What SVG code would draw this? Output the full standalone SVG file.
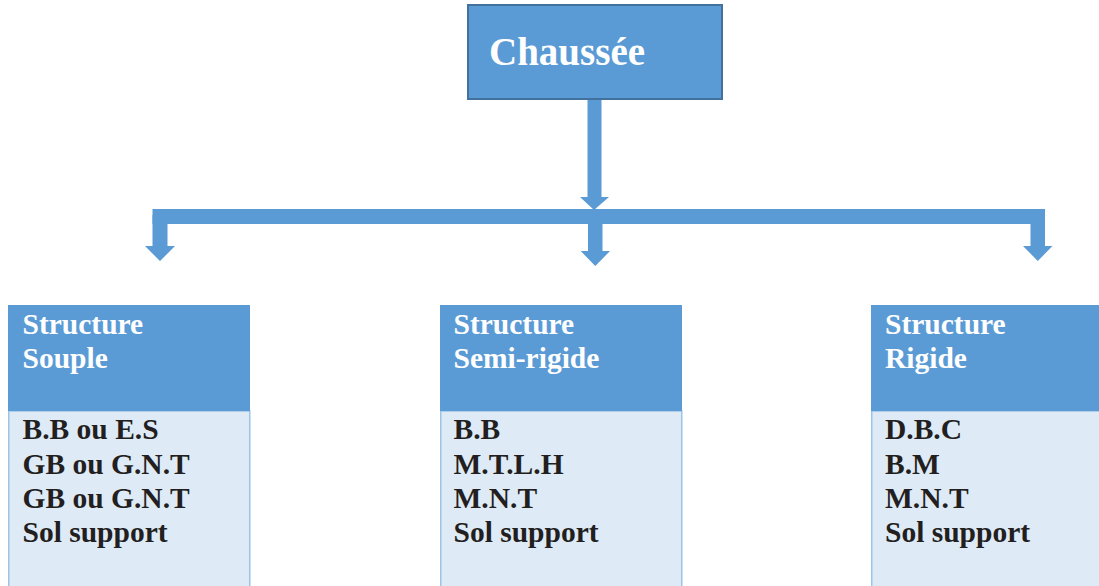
<svg xmlns="http://www.w3.org/2000/svg" width="1099" height="586" viewBox="0 0 1099 586">
<style>
.hdr{fill:#5b9bd5}
.body{fill:#deebf7;stroke:#9dc3e6;stroke-width:1.5}
.arr{fill:#5b9bd5}
.ht{font-family:"Liberation Serif",serif;font-weight:bold;font-size:29.5px;fill:#ffffff}
.bt{font-family:"Liberation Serif",serif;font-weight:bold;font-size:29.5px;fill:#231f20}
.title{font-family:"Liberation Serif",serif;font-weight:bold;font-size:39px;fill:#ffffff}
</style>
<rect width="1099" height="586" fill="#ffffff"/>
<g id="connectors">
<polygon class="arr" points="587.5,100 601.5,100 601.5,197 609,197 594,210 580,197 587.5,197"/>
<rect class="arr" x="152.5" y="209" width="892.5" height="15"/>
<polygon class="arr" points="152.5,215 167.5,215 167.5,246 175,246 160,261 145,246 152.5,246"/>
<polygon class="arr" points="588,220 602.5,220 602.5,251 610,251 595.3,266 580.7,251 588,251"/>
<polygon class="arr" points="1030.5,215 1045,215 1045,246 1052.5,246 1037.8,261 1023,246 1030.5,246"/>
</g>
<g id="chaussee">
<rect x="468" y="5" width="254" height="94" fill="#5b9bd5" stroke="#41719c" stroke-width="2"/>
<text class="title" x="489" y="65">Chaussée</text>
</g>
<g id="souple">
<rect class="body" x="8.75" y="411" width="241" height="180"/>
<rect class="hdr" x="8" y="305" width="242" height="106"/>
<text class="ht" x="22.5" y="333.5">Structure</text>
<text class="ht" x="22.5" y="367.5">Souple</text>
<text class="bt" x="22.5" y="439">B.B ou E.S</text>
<text class="bt" x="22.5" y="473.5">GB ou G.N.T</text>
<text class="bt" x="22.5" y="507.5">GB ou G.N.T</text>
<text class="bt" x="22.5" y="542">Sol support</text>
</g>
<g id="semi-rigide">
<rect class="body" x="440.75" y="411" width="241" height="180"/>
<rect class="hdr" x="440" y="305" width="242" height="106"/>
<text class="ht" x="453.5" y="333.5">Structure</text>
<text class="ht" x="453.5" y="367.5">Semi-rigide</text>
<text class="bt" x="453.5" y="439">B.B</text>
<text class="bt" x="453.5" y="473.5">M.T.L.H</text>
<text class="bt" x="453.5" y="507.5">M.N.T</text>
<text class="bt" x="453.5" y="542">Sol support</text>
</g>
<g id="rigide">
<rect class="body" x="871.75" y="411" width="241" height="180"/>
<rect class="hdr" x="871" y="305" width="242" height="106"/>
<text class="ht" x="885" y="333.5">Structure</text>
<text class="ht" x="885" y="367.5">Rigide</text>
<text class="bt" x="885" y="439">D.B.C</text>
<text class="bt" x="885" y="473.5">B.M</text>
<text class="bt" x="885" y="507.5">M.N.T</text>
<text class="bt" x="885" y="542">Sol support</text>
</g>
</svg>
